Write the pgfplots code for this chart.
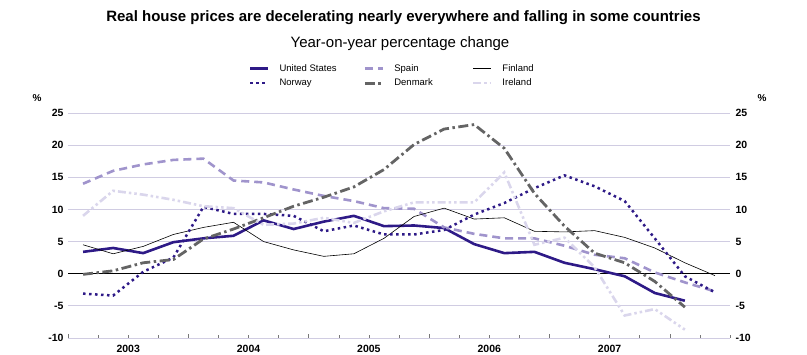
\documentclass[border=0pt]{standalone}
\usepackage{pgfplots}
\pgfplotsset{compat=1.18}
\usepackage{pgfplotstable}
\usepackage{fontspec}
\setmainfont{Liberation Sans}
\definecolor{usblue}{RGB}{46,26,135}
\definecolor{spain}{RGB}{160,148,204}
\definecolor{denmark}{RGB}{100,100,100}
\definecolor{ireland}{RGB}{218,214,236}
\definecolor{gridc}{RGB}{208,204,226}
\definecolor{tickc}{RGB}{120,120,120}

\pgfplotstableread{
q us
0.5 3.4
1.5 4.0
2.5 3.2
3.5 4.9
4.5 5.5
5.5 5.9
6.5 8.3
7.5 6.95
8.5 8.1
9.5 9.0
10.5 7.4
11.5 7.5
12.5 7.1
13.5 4.6
14.5 3.2
15.5 3.4
16.5 1.7
17.5 0.7
18.5 -0.4
19.5 -3.0
20.5 -4.2
}\usdata

\pgfplotstableread{
q no
0.5 -3.1
1.5 -3.4
2.5 0.3
3.5 2.5
4.5 10.4
5.5 9.3
6.5 9.3
7.5 9.0
8.5 6.6
9.5 7.5
10.5 6.1
11.5 6.1
12.5 6.8
13.5 9.2
14.5 11.0
15.5 13.3
16.5 15.3
17.5 13.6
18.5 11.3
19.5 5.5
20.5 -0.4
21.5 -2.9
}\nodata

\pgfplotstableread{
q es
0.5 14.0
1.5 16.0
2.5 17.0
3.5 17.7
4.5 17.9
5.5 14.5
6.5 14.2
7.5 13.1
8.5 12.1
9.5 11.3
10.5 10.2
11.5 10.1
12.5 7.2
13.5 6.2
14.5 5.5
15.5 5.5
16.5 4.35
17.5 2.95
18.5 2.4
19.5 0.2
20.5 -1.35
21.5 -2.75
}\esdata

\pgfplotstableread{
q fi
0.5 4.5
1.5 3.1
2.5 4.25
3.5 6.1
4.5 7.2
5.5 8.0
6.5 5.0
7.5 3.7
8.5 2.7
9.5 3.1
10.5 5.5
11.5 8.9
12.5 10.2
13.5 8.5
14.5 8.7
15.5 6.6
16.5 6.5
17.5 6.7
18.5 5.65
19.5 4.0
20.5 1.7
21.5 -0.3
}\fidata

\pgfplotstableread{
q dk
0.5 -0.1
1.5 0.45
2.5 1.7
3.5 2.2
4.5 5.4
5.5 6.95
6.5 8.7
7.5 10.5
8.5 11.9
9.5 13.5
10.5 16.2
11.5 20.1
12.5 22.5
13.5 23.2
14.5 19.5
15.5 12.5
16.5 7.4
17.5 3.2
18.5 1.7
19.5 -1.2
20.5 -5.2
}\dkdata

\pgfplotstableread{
q ie
0.5 9.0
1.5 12.9
2.5 12.3
3.5 11.5
4.5 10.5
5.5 10.2
6.5 7.6
7.5 7.8
8.5 8.7
9.5 7.9
10.5 9.7
11.5 11.1
12.5 11.1
13.5 11.1
14.5 15.75
15.5 4.5
16.5 5.6
17.5 1.0
18.5 -6.5
19.5 -5.5
20.5 -8.7
}\iedata

\begin{document}
\begin{tikzpicture}[x=1pt,y=1pt]
\path[use as bounding box] (0,0) rectangle (807,355);
\node[font=\bfseries\fontsize{15}{17}\selectfont] at (403.5,337) {Real house prices are decelerating nearly everywhere and falling in some countries};
\node[font=\fontsize{15}{17}\selectfont] at (400,311.5) {Year-on-year percentage change};
\node[font=\bfseries\fontsize{10}{12}\selectfont] at (37,257) {\%};
\node[font=\bfseries\fontsize{10}{12}\selectfont] at (762,257) {\%};
\begin{axis}[
  at={(68pt,17pt)}, anchor=south west,
  scale only axis, width=662pt, height=225pt,
  xmin=0, xmax=22, ymin=-10, ymax=25,
  axis line style={draw=none},
  ytick={-10,-5,...,25},
  yticklabels={-10,-5,0,5,10,15,20,25},
  ymajorgrids, grid style={gridc, line width=0.8pt},
  major y tick style={draw=none},
  yticklabel style={font=\bfseries\fontsize{10.5}{12}\selectfont, anchor=east, xshift=-1pt},
  xtick={0,4,8,12,16,20},
  minor xtick={1,2,3,5,6,7,9,10,11,13,14,15,17,18,19,21,22},
  xticklabels={2003,2004,2005,2006,2007},
  x tick label as interval,
  xtick pos=bottom, tick align=inside,
  major x tick style={tickc, line width=0.6pt},
  minor x tick style={tickc, line width=0.6pt},
  major tick length=4pt, minor tick length=2.5pt,
  xticklabel style={font=\bfseries\fontsize{10.5}{12}\selectfont, yshift=-4pt},
  legend columns=3,
  legend style={draw=none, fill=none, at={(0.273,1.225)}, anchor=north west,
    font=\fontsize{9.5}{11}\selectfont, inner sep=0pt, row sep=2pt,
    /tikz/every odd column/.append style={column sep=8pt},
    /tikz/column 2/.style={column sep=25pt},
    /tikz/column 4/.style={column sep=37pt}},
  legend cell align=left,
  legend image code/.code={\draw[#1] (0pt,0pt) -- (18pt,0pt);},
  clip=false,
]
\draw[black, line width=0.8pt] (axis cs:0,0) -- (axis cs:22,0);
\addplot[usblue, line width=2.6pt] table[x=q,y=us] {\usdata};
\addlegendentry{United States}
\addplot[spain, line width=2.6pt, dash pattern=on 8pt off 5pt] table[x=q,y=es] {\esdata};
\addlegendentry{Spain}
\addplot[black, line width=0.6pt] table[x=q,y=fi] {\fidata};
\addlegendentry{Finland}
\addplot[usblue, line width=2.5pt, dash pattern=on 2.5pt off 3.5pt] table[x=q,y=no] {\nodata};
\addlegendentry{Norway}
\addplot[denmark, line width=2.8pt, dash pattern=on 10pt off 3.5pt on 2.5pt off 3.5pt] table[x=q,y=dk] {\dkdata};
\addlegendentry{Denmark}
\addplot[ireland, line width=2.6pt, dash pattern=on 8pt off 3pt on 2.5pt off 3pt on 2.5pt off 3pt] table[x=q,y=ie] {\iedata};
\addlegendentry{Ireland}
\end{axis}
\begin{axis}[
  at={(68pt,17pt)}, anchor=south west,
  scale only axis, width=662pt, height=225pt,
  xmin=0, xmax=22, ymin=-10, ymax=25,
  axis x line=none, axis y line*=right,
  y axis line style={draw=none},
  ytick={-10,-5,...,25},
  yticklabels={-10,-5,0,5,10,15,20,25},
  major y tick style={draw=none},
  yticklabel style={font=\bfseries\fontsize{10.5}{12}\selectfont, anchor=west, xshift=2pt},
]
\end{axis}
\end{tikzpicture}
\end{document}
